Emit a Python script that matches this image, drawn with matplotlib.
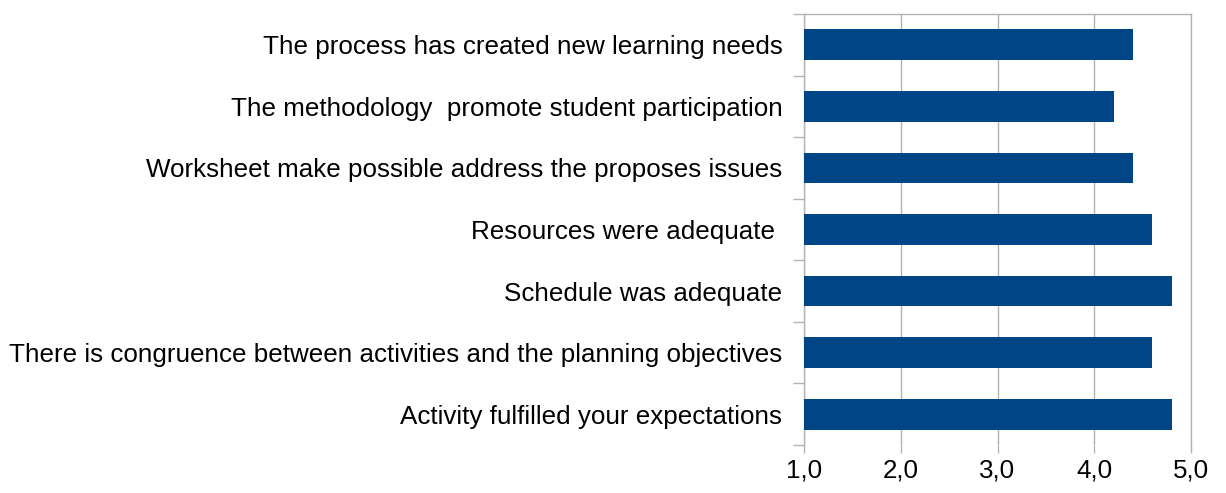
import numpy as np
import matplotlib.pyplot as plt

plt.rcParams["font.family"] = ["Liberation Sans", "DejaVu Sans"]

# data (bottom to top)
labels = [
    "Activity fulfilled your expectations",
    "There is congruence between activities and the planning objectives",
    "Schedule was adequate",
    "Resources were adequate ",
    "Worksheet make possible address the proposes issues",
    "The methodology  promote student participation",
    "The process has created new learning needs",
]
scores = [4.8, 4.6, 4.8, 4.6, 4.4, 4.2, 4.4]
x_ticks = [1.0, 2.0, 3.0, 4.0, 5.0]

grid_col = "#b3b3b3"

fig = plt.figure(figsize=(12.26, 4.93), dpi=100)
ax = fig.add_axes([804 / 1226, 1 - 445 / 493, (1191 - 804) / 1226, (445 - 14) / 493])

y = np.arange(len(labels))
ax.barh(y, np.array(scores) - 1.0, left=1.0, height=0.5, color="#004586", zorder=3)

ax.set_xlim(1.0, 5.0)
ax.set_ylim(-0.5, len(labels) - 0.5)
ax.set_xticks(x_ticks)
ax.set_xticklabels([f"{v:.1f}".replace(".", ",") for v in x_ticks], fontsize=18.75)
ax.set_yticks(y)
ax.set_yticklabels(labels, fontsize=18.75)
ax.set_yticks(np.arange(-0.5, len(labels)), minor=True)

ax.tick_params(axis="y", which="major", length=0, pad=15.5)
ax.tick_params(axis="y", which="minor", length=8, color=grid_col, width=1)
ax.tick_params(axis="x", length=6, color=grid_col, width=1, pad=4)

ax.grid(axis="x", color=grid_col, linewidth=1, zorder=0)
for side in ["top", "right", "left"]:
    ax.spines[side].set_color(grid_col)
    ax.spines[side].set_linewidth(1)
ax.spines["bottom"].set_visible(False)

plt.savefig("out.png", dpi=100)
